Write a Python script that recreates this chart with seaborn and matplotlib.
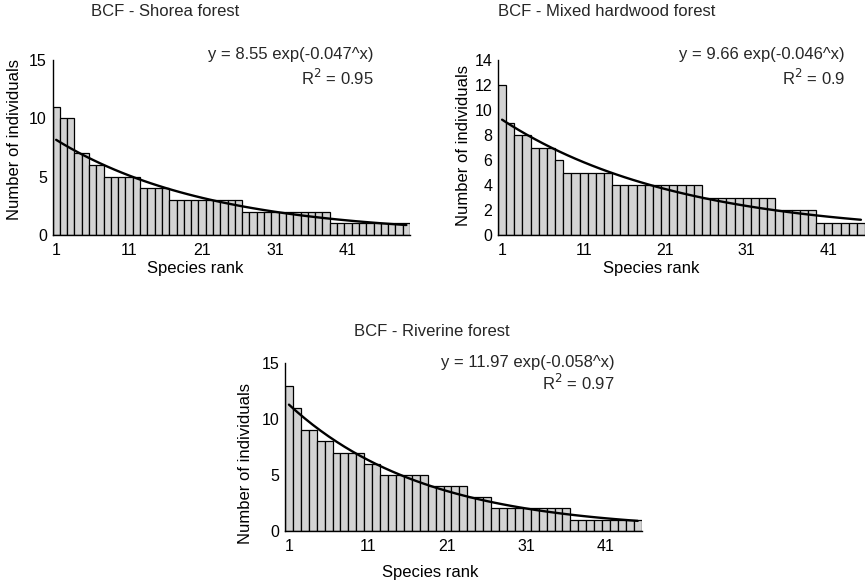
import numpy as np
import pandas as pd
import matplotlib
matplotlib.use("Agg")
import matplotlib.pyplot as plt
import seaborn as sns

# ---- data ----
shorea_counts = [11, 10, 10, 7, 7, 6, 6, 5, 5, 5, 5, 5, 4, 4, 4, 4,
                 3, 3, 3, 3, 3, 3, 3, 3, 3, 3,
                 2, 2, 2, 2, 2, 2, 2, 2, 2, 2, 2, 2,
                 1, 1, 1, 1, 1, 1, 1, 1, 1, 1, 1]
mixed_counts = [12, 9, 8, 8, 7, 7, 7, 6, 5, 5, 5, 5, 5, 5,
                4, 4, 4, 4, 4, 4, 4, 4, 4, 4, 4,
                3, 3, 3, 3, 3, 3, 3, 3, 3,
                2, 2, 2, 2, 2,
                1, 1, 1, 1, 1, 1]
riverine_counts = [13, 11, 9, 9, 8, 8, 7, 7, 7, 7, 6, 6, 5, 5, 5, 5, 5, 5,
                   4, 4, 4, 4, 4, 3, 3, 3,
                   2, 2, 2, 2, 2, 2, 2, 2, 2, 2,
                   1, 1, 1, 1, 1, 1, 1, 1, 1]

titles = ["BCF - Shorea forest", "BCF - Mixed hardwood forest", "BCF - Riverine forest"]
fit_a = [8.55, 9.66, 11.97]
fit_b = [0.047, 0.046, 0.058]
r2_labels = ["0.95", "0.9", "0.97"]
eq_labels = ["y = 8.55 exp(-0.047^x)", "y = 9.66 exp(-0.046^x)", "y = 11.97 exp(-0.058^x)"]
y_max = [15, 14, 15]
y_ticks = [[0, 5, 10, 15], [0, 2, 4, 6, 8, 10, 12, 14], [0, 5, 10, 15]]
x_ticks = [1, 11, 21, 31, 41]

sns.set_theme(style="white")
plt.rcParams['font.family'] = ['Liberation Sans', 'DejaVu Sans']

W, H = 865, 582
fig = plt.figure(figsize=(W / 100, H / 100), dpi=100)

def px_axes(l, r, t, b):
    return fig.add_axes([l / W, 1 - b / H, (r - l) / W, (b - t) / H])

axes_px = [(52.5, 410, 60, 235), (498, 865, 60, 235), (285, 641.7, 363.3, 530.7)]
title_px = [(165, 12), (607, 12), (432, 331)]
eq_px = [(374, 55, 78), (845, 55, 78), (615, 363, 383)]
xlabel_px = [(195, 268), (651, 268), (430, 573)]
ylabel_px = [(15, 139), (463, 146), (245, 464)]

all_counts = [shorea_counts, mixed_counts, riverine_counts]
fs = 12
tfs = 11.5

for i, counts in enumerate(all_counts):
    l, r, t, b = axes_px[i]
    ax = px_axes(l, r, t, b)
    n = len(counts)
    df = pd.DataFrame({"rank": np.arange(1, n + 1), "count": counts})
    sns.barplot(data=df, x="rank", y="count", native_scale=True, width=1.0,
                color="#d3d3d3", edgecolor="black", linewidth=0.9,
                saturation=1, ax=ax)
    for p in ax.patches:
        p.set_facecolor("#d3d3d3")
    xs = df["rank"].to_numpy(dtype=float)
    ax.plot(xs, fit_a[i] * np.exp(-fit_b[i] * xs), color="black", lw=1.7, zorder=5)
    ax.set_xlim(0.5, n + 0.5)
    ax.set_ylim(0, y_max[i])
    ax.set_yticks(y_ticks[i])
    ax.set_xticks(x_ticks)
    ax.set_xticklabels([str(v) for v in x_ticks])
    ax.tick_params(axis="both", length=0, labelsize=tfs, colors="black")
    ax.tick_params(axis="x", pad=6)
    ax.tick_params(axis="y", pad=4)
    for s in ["top", "right"]:
        ax.spines[s].set_visible(False)
    for s in ["left", "bottom"]:
        ax.spines[s].set_color("black")
        ax.spines[s].set_linewidth(1.0)
    ax.set_ylabel("Number of individuals", fontsize=fs, color="black")
    yx, yy = ylabel_px[i]
    ax.yaxis.set_label_coords((yx - l) / (r - l), (b - yy) / (b - t))
    ax.set_xlabel("Species rank", fontsize=fs, color="black")
    xl, yl = xlabel_px[i]
    ax.xaxis.set_label_coords((xl - l) / (r - l), (b - yl) / (b - t))
    ax.xaxis.label.set_va("center")
    ax.yaxis.label.set_va("center")
    tx, ty = title_px[i]
    fig.text(tx / W, 1 - ty / H, titles[i], ha="center", va="center", fontsize=fs)
    ex, ey1, ey2 = eq_px[i]
    fig.text(ex / W, 1 - ey1 / H, eq_labels[i], ha="right", va="center", fontsize=fs)
    fig.text(ex / W, 1 - ey2 / H, "R$^2$ = " + r2_labels[i], ha="right", va="center", fontsize=fs)

fig.savefig("out.png", dpi=100)
